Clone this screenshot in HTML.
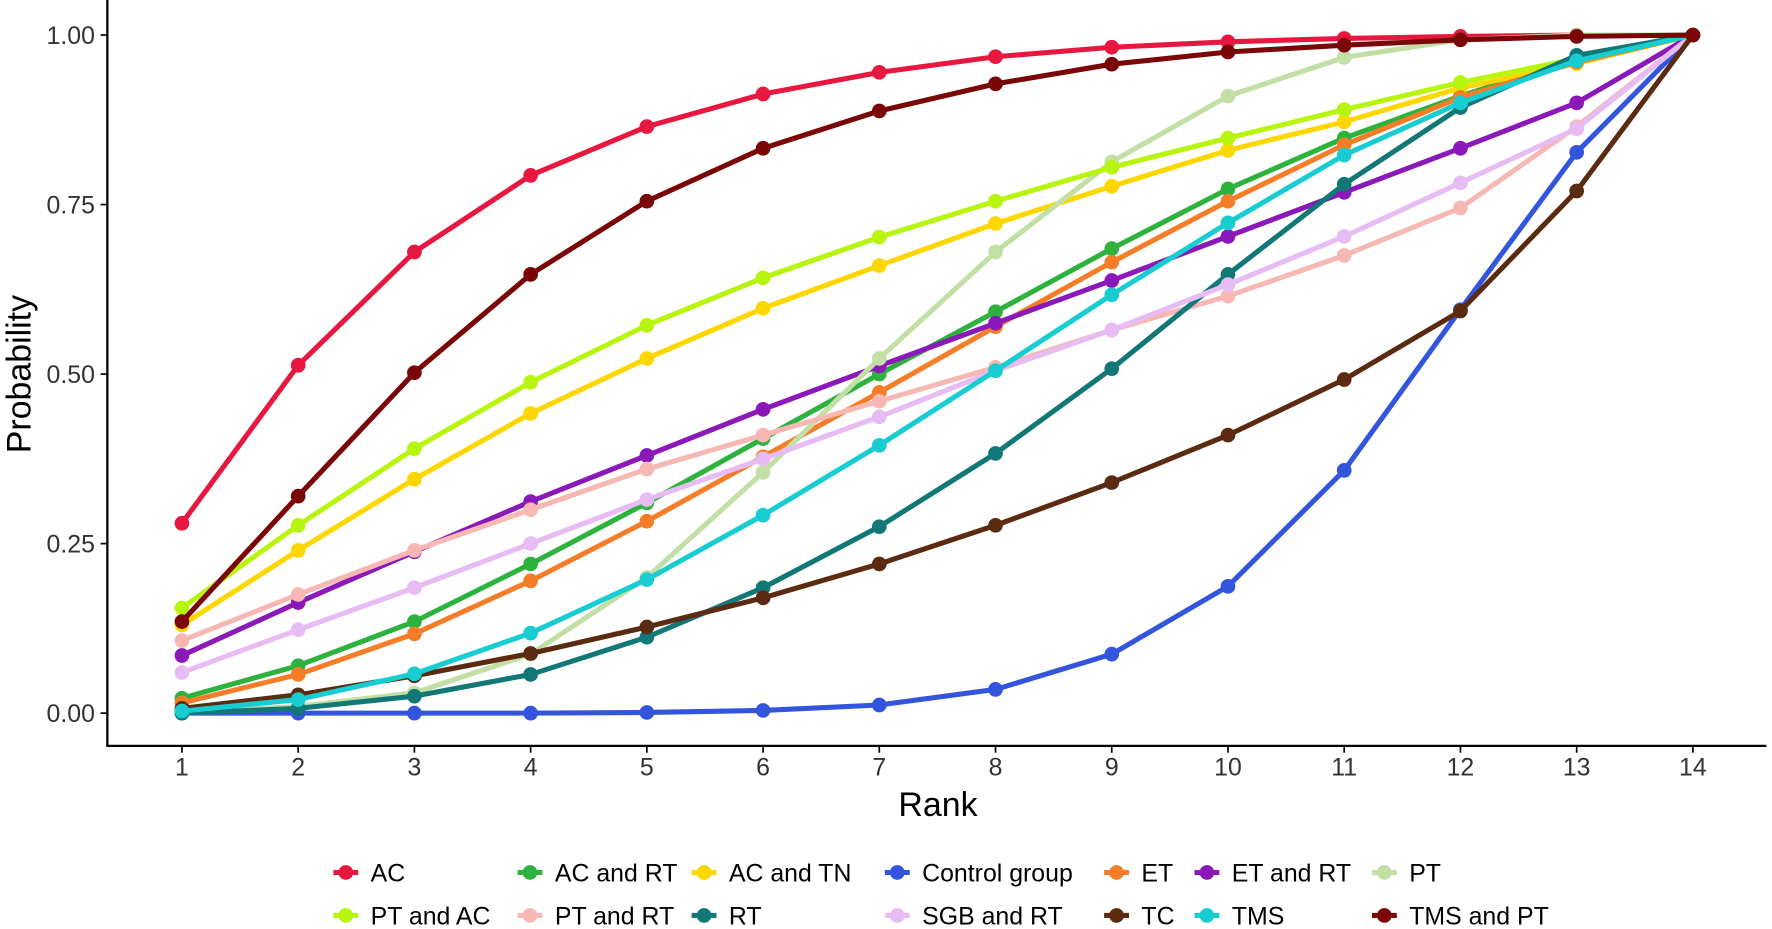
<!DOCTYPE html>
<html><head><meta charset="utf-8"><style>
html,body{margin:0;padding:0;background:#fff;}
svg{display:block;font-family:"Liberation Sans",sans-serif;}
</style></head><body>
<svg id="chart" width="1772" height="929" viewBox="0 0 1568 822" preserveAspectRatio="none">
<g id="axes"></g>
<g id="plot"></g>
<g id="legend"></g>
</svg>
<script>
const ranks = [1,2,3,4,5,6,7,8,9,10,11,12,13,14];
const yTicks = [0, 0.25, 0.5, 0.75, 1];
const yTickLabels = ["0.00","0.25","0.50","0.75","1.00"];
const seriesNames = ["AC","AC and RT","AC and TN","Control group","ET","ET and RT","PT","PT and AC","PT and RT","RT","SGB and RT","TC","TMS","TMS and PT"];
const seriesColors = ["#e8173f","#2db33d","#ffd700","#3355dd","#f57d27","#8b18b8","#c2dfa6","#b8f50e","#f7b8b3","#127777","#e7bcf5","#5a2b10","#18cdd1","#7a0607"];
const vAC = [0.28,0.513,0.68,0.793,0.865,0.913,0.945,0.968,0.982,0.99,0.995,0.998,1,1];
const vACRT = [0.022,0.07,0.135,0.22,0.31,0.405,0.5,0.592,0.685,0.773,0.848,0.91,0.965,1];
const vACTN = [0.13,0.24,0.345,0.442,0.523,0.597,0.66,0.722,0.777,0.83,0.872,0.922,0.958,1];
const vControl = [0,0,0,0,0.001,0.004,0.012,0.035,0.087,0.187,0.358,0.595,0.827,1];
const vET = [0.015,0.057,0.117,0.195,0.283,0.378,0.473,0.57,0.665,0.755,0.838,0.908,0.96,1];
const vETRT = [0.085,0.163,0.238,0.312,0.38,0.448,0.512,0.575,0.638,0.703,0.768,0.833,0.9,1];
const vPT = [0.0,0.01,0.03,0.087,0.2,0.355,0.523,0.68,0.813,0.91,0.967,0.993,1,1];
const vPTAC = [0.155,0.277,0.39,0.488,0.572,0.642,0.702,0.755,0.805,0.848,0.89,0.93,0.965,1];
const vPTRT = [0.107,0.175,0.24,0.30,0.36,0.41,0.46,0.51,0.565,0.615,0.675,0.745,0.865,1];
const vRT = [0.0,0.007,0.025,0.057,0.112,0.185,0.275,0.383,0.508,0.647,0.78,0.893,0.97,1];
const vSGBRT = [0.06,0.123,0.185,0.25,0.315,0.375,0.437,0.505,0.565,0.632,0.703,0.782,0.862,1];
const vTC = [0.007,0.027,0.055,0.088,0.127,0.17,0.22,0.277,0.34,0.41,0.492,0.593,0.77,1];
const vTMS = [0.003,0.02,0.058,0.118,0.197,0.292,0.395,0.505,0.617,0.723,0.823,0.9,0.962,1];
const vTMSPT = [0.135,0.32,0.502,0.647,0.755,0.833,0.888,0.928,0.957,0.975,0.985,0.993,0.998,1];
const seriesValues = [vAC,vACRT,vACTN,vControl,vET,vETRT,vPT,vPTAC,vPTRT,vRT,vSGBRT,vTC,vTMS,vTMSPT];

const NS = "http://www.w3.org/2000/svg";
const xScale = r => 161 + (r - 1) * (1498 - 161) / 13;
const yScale = v => 631 - v * 600;
function mk(tag, attrs, parent){ const e=document.createElementNS(NS,tag); for(const k in attrs) e.setAttribute(k,attrs[k]); parent.appendChild(e); return e; }
const axes=document.getElementById('axes'), plot=document.getElementById('plot'), legend=document.getElementById('legend');

let yl = mk('line',{x1:95,y1:0,x2:95,y2:660,stroke:'#000','stroke-width':2},axes);


let xl = mk('line',{x1:94,y1:660,x2:1563,y2:660,stroke:'#000','stroke-width':2},axes);


yTicks.forEach((t,i)=>{
  const y=yScale(t);
  mk('line',{x1:89,y1:y,x2:95,y2:y,stroke:'#000','stroke-width':1.5},axes);
  const tx=mk('text',{x:84,y:y+8,'text-anchor':'end','font-size':22,fill:'#333'},axes);
  tx.textContent=yTickLabels[i];
  
  
});
ranks.forEach(r=>{
  const x=xScale(r);
  mk('line',{x1:x,y1:660,x2:x,y2:666,stroke:'#000','stroke-width':1.5},axes);
  const tx=mk('text',{x:x,y:686,'text-anchor':'middle','font-size':22,fill:'#333'},axes);
  tx.textContent=r;
  
  
});
let xt=mk('text',{x:830,y:722,'text-anchor':'middle','font-size':30,fill:'#000'},axes);
xt.textContent='Rank';


let yt=mk('text',{x:0,y:0,'text-anchor':'middle','font-size':30,fill:'#000',transform:'translate(27,331) rotate(-90)'},axes);
yt.textContent='Probability';



seriesValues.forEach((vals,si)=>{
  const g=mk('g',{},plot);
  
  
  const pts=vals.map((v,i)=>xScale(ranks[i])+','+yScale(v)).join(' ');
  mk('polyline',{points:pts,fill:'none',stroke:seriesColors[si],'stroke-width':4.5,'stroke-linejoin':'round'},g);
  vals.forEach((v,i)=>{
    const c=mk('circle',{cx:xScale(ranks[i]),cy:yScale(v),r:6.5,fill:seriesColors[si]},g);
    
    
  });
});

const legendKeyX=[306,469,623,794,988,1068,1225];
seriesNames.forEach((n,i)=>{
  const row=i<7?0:1, col=i%7;
  const cx=legendKeyX[col], cy=row===0?772:810;
  const g=mk('g',{},legend);
  
  
  mk('line',{x1:cx-11,y1:cy,x2:cx+11,y2:cy,stroke:seriesColors[i],'stroke-width':4.5},g);
  mk('circle',{cx:cx,cy:cy,r:6.5,fill:seriesColors[i]},g);
  const t=mk('text',{x:cx+22,y:cy+8,'font-size':22,fill:'#000'},g);
  t.textContent=n;
});
</script>
</body></html>
